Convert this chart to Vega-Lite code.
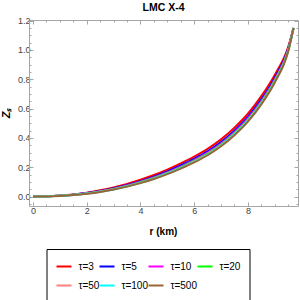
{
  "$schema": "https://vega.github.io/schema/vega-lite/v6.json",
  "width": 269,
  "height": 186,
  "autosize": {"type": "none"},
  "padding": {"left": 29, "top": 20, "right": 2, "bottom": 94},
  "background": "white",
  "title": {"text": "LMC X-4", "fontSize": 10.5, "fontWeight": "bold", "font": "Liberation Sans", "anchor": "middle", "baseline": "alphabetic", "offset": 3, "dy": 8, "color": "black"},
  "config": {"view": {"stroke": null}, "font": "Liberation Sans"},
  "datasets": {
    "curves": [
      {"r":0,"t":"τ=3","z":0},{"r":0.5,"t":"τ=3","z":0.002},{"r":1,"t":"τ=3","z":0.007},{"r":1.5,"t":"τ=3","z":0.015},{"r":2,"t":"τ=3","z":0.027},{"r":2.5,"t":"τ=3","z":0.043},{"r":3,"t":"τ=3","z":0.063},{"r":3.5,"t":"τ=3","z":0.087},{"r":4,"t":"τ=3","z":0.115},{"r":4.5,"t":"τ=3","z":0.147},{"r":5,"t":"τ=3","z":0.184},{"r":5.5,"t":"τ=3","z":0.226},{"r":6,"t":"τ=3","z":0.272},{"r":6.5,"t":"τ=3","z":0.325},{"r":7,"t":"τ=3","z":0.39},{"r":7.5,"t":"τ=3","z":0.47},{"r":8,"t":"τ=3","z":0.565},{"r":8.5,"t":"τ=3","z":0.685},{"r":9,"t":"τ=3","z":0.83},{"r":9.5,"t":"τ=3","z":1.02},{"r":9.7,"t":"τ=3","z":1.15},
      {"r":0,"t":"τ=5","z":0},{"r":0.5,"t":"τ=5","z":0.0018},{"r":1,"t":"τ=5","z":0.0062},{"r":1.5,"t":"τ=5","z":0.0134},{"r":2,"t":"τ=5","z":0.0242},{"r":2.5,"t":"τ=5","z":0.0386},{"r":3,"t":"τ=5","z":0.057},{"r":3.5,"t":"τ=5","z":0.0794},{"r":4,"t":"τ=5","z":0.1058},{"r":4.5,"t":"τ=5","z":0.1362},{"r":5,"t":"τ=5","z":0.1716},{"r":5.5,"t":"τ=5","z":0.212},{"r":6,"t":"τ=5","z":0.2564},{"r":6.5,"t":"τ=5","z":0.3078},{"r":7,"t":"τ=5","z":0.3712},{"r":7.5,"t":"τ=5","z":0.4496},{"r":8,"t":"τ=5","z":0.5434},{"r":8.5,"t":"τ=5","z":0.6626},{"r":9,"t":"τ=5","z":0.8092},{"r":9.5,"t":"τ=5","z":1.008},{"r":9.7,"t":"τ=5","z":1.15},
      {"r":0,"t":"τ=10","z":0},{"r":0.5,"t":"τ=10","z":0.0017},{"r":1,"t":"τ=10","z":0.0058},{"r":1.5,"t":"τ=10","z":0.0126},{"r":2,"t":"τ=10","z":0.0228},{"r":2.5,"t":"τ=10","z":0.0364},{"r":3,"t":"τ=10","z":0.054},{"r":3.5,"t":"τ=10","z":0.0756},{"r":4,"t":"τ=10","z":0.1012},{"r":4.5,"t":"τ=10","z":0.1308},{"r":5,"t":"τ=10","z":0.1654},{"r":5.5,"t":"τ=10","z":0.205},{"r":6,"t":"τ=10","z":0.2486},{"r":6.5,"t":"τ=10","z":0.2992},{"r":7,"t":"τ=10","z":0.3618},{"r":7.5,"t":"τ=10","z":0.4394},{"r":8,"t":"τ=10","z":0.5326},{"r":8.5,"t":"τ=10","z":0.6514},{"r":9,"t":"τ=10","z":0.7988},{"r":9.5,"t":"τ=10","z":1.002},{"r":9.7,"t":"τ=10","z":1.15},
      {"r":0,"t":"τ=20","z":0},{"r":0.5,"t":"τ=20","z":0.0016},{"r":1,"t":"τ=20","z":0.0055},{"r":1.5,"t":"τ=20","z":0.012},{"r":2,"t":"τ=20","z":0.0218},{"r":2.5,"t":"τ=20","z":0.0348},{"r":3,"t":"τ=20","z":0.0518},{"r":3.5,"t":"τ=20","z":0.0728},{"r":4,"t":"τ=20","z":0.0978},{"r":4.5,"t":"τ=20","z":0.1268},{"r":5,"t":"τ=20","z":0.1608},{"r":5.5,"t":"τ=20","z":0.1998},{"r":6,"t":"τ=20","z":0.2428},{"r":6.5,"t":"τ=20","z":0.2928},{"r":7,"t":"τ=20","z":0.3548},{"r":7.5,"t":"τ=20","z":0.4318},{"r":8,"t":"τ=20","z":0.5245},{"r":8.5,"t":"τ=20","z":0.643},{"r":9,"t":"τ=20","z":0.791},{"r":9.5,"t":"τ=20","z":0.9975},{"r":9.7,"t":"τ=20","z":1.15},
      {"r":0,"t":"τ=50","z":0},{"r":0.5,"t":"τ=50","z":0.0016},{"r":1,"t":"τ=50","z":0.0053},{"r":1.5,"t":"τ=50","z":0.0116},{"r":2,"t":"τ=50","z":0.021},{"r":2.5,"t":"τ=50","z":0.0337},{"r":3,"t":"τ=50","z":0.0503},{"r":3.5,"t":"τ=50","z":0.0709},{"r":4,"t":"τ=50","z":0.0955},{"r":4.5,"t":"τ=50","z":0.124},{"r":5,"t":"τ=50","z":0.1577},{"r":5.5,"t":"τ=50","z":0.1963},{"r":6,"t":"τ=50","z":0.2389},{"r":6.5,"t":"τ=50","z":0.2885},{"r":7,"t":"τ=50","z":0.35},{"r":7.5,"t":"τ=50","z":0.4267},{"r":8,"t":"τ=50","z":0.5191},{"r":8.5,"t":"τ=50","z":0.6374},{"r":9,"t":"τ=50","z":0.7858},{"r":9.5,"t":"τ=50","z":0.9945},{"r":9.7,"t":"τ=50","z":1.15},
      {"r":0,"t":"τ=100","z":0},{"r":0.5,"t":"τ=100","z":0.0015},{"r":1,"t":"τ=100","z":0.0052},{"r":1.5,"t":"τ=100","z":0.0113},{"r":2,"t":"τ=100","z":0.0206},{"r":2.5,"t":"τ=100","z":0.0329},{"r":3,"t":"τ=100","z":0.0492},{"r":3.5,"t":"τ=100","z":0.0695},{"r":4,"t":"τ=100","z":0.0938},{"r":4.5,"t":"τ=100","z":0.1222},{"r":5,"t":"τ=100","z":0.1555},{"r":5.5,"t":"τ=100","z":0.1938},{"r":6,"t":"τ=100","z":0.2361},{"r":6.5,"t":"τ=100","z":0.2854},{"r":7,"t":"τ=100","z":0.3468},{"r":7.5,"t":"τ=100","z":0.4231},{"r":8,"t":"τ=100","z":0.5153},{"r":8.5,"t":"τ=100","z":0.6335},{"r":9,"t":"τ=100","z":0.7822},{"r":9.5,"t":"τ=100","z":0.9924},{"r":9.7,"t":"τ=100","z":1.15},
      {"r":0,"t":"τ=500","z":0},{"r":0.5,"t":"τ=500","z":0.0015},{"r":1,"t":"τ=500","z":0.005},{"r":1.5,"t":"τ=500","z":0.011},{"r":2,"t":"τ=500","z":0.02},{"r":2.5,"t":"τ=500","z":0.032},{"r":3,"t":"τ=500","z":0.048},{"r":3.5,"t":"τ=500","z":0.068},{"r":4,"t":"τ=500","z":0.092},{"r":4.5,"t":"τ=500","z":0.12},{"r":5,"t":"τ=500","z":0.153},{"r":5.5,"t":"τ=500","z":0.191},{"r":6,"t":"τ=500","z":0.233},{"r":6.5,"t":"τ=500","z":0.282},{"r":7,"t":"τ=500","z":0.343},{"r":7.5,"t":"τ=500","z":0.419},{"r":8,"t":"τ=500","z":0.511},{"r":8.5,"t":"τ=500","z":0.629},{"r":9,"t":"τ=500","z":0.778},{"r":9.5,"t":"τ=500","z":0.99},{"r":9.7,"t":"τ=500","z":1.15}
    ]
  },
  "data": {"name": "curves"},
  "layer": [
    {
      "mark": {"type": "line", "strokeWidth": 2, "interpolate": "monotone"},
      "encoding": {
        "x": {
          "field": "r", "type": "quantitative",
          "scale": {"domain": [-0.149, 9.866], "nice": false, "zero": false},
          "axis": {
            "orient": "bottom",
            "values": [0,0.5,1,1.5,2,2.5,3,3.5,4,4.5,5,5.5,6,6.5,7,7.5,8,8.5,9,9.5],
            "tickSize": {"condition": {"test": "datum.value % 2 != 0", "value": -2}, "value": -4},
            "labelExpr": "datum.value % 2 == 0 ? format(datum.value, 'd') : ''",
            "labelFlush": false,
            "labelFontSize": 9, "labelColor": "#444444", "labelPadding": 4,
            "grid": false, "domainColor": "#a6a6a6", "tickColor": "#a6a6a6",
            "title": "r (km)", "titleFontSize": 10, "titleFontWeight": "bold", "titleColor": "black",
            "titleX": 134, "titleY": 28.5, "titleBaseline": "alphabetic", "titleAlign": "center"
          }
        },
        "y": {
          "field": "z", "type": "quantitative",
          "scale": {"domain": [-0.064, 1.204], "nice": false, "zero": false},
          "axis": {
            "orient": "left",
            "values": [-0.05,0,0.05,0.1,0.15,0.2,0.25,0.3,0.35,0.4,0.45,0.5,0.55,0.6,0.65,0.7,0.75,0.8,0.85,0.9,0.95,1,1.05,1.1,1.15,1.2],
            "tickSize": {"condition": {"test": "abs(datum.value*5 - round(datum.value*5)) > 0.001", "value": -2}, "value": -4},
            "labelExpr": "abs(datum.value*5 - round(datum.value*5)) < 0.001 ? format(datum.value, '.1f') : ''",
            "labelFontSize": 9, "labelColor": "#444444", "labelPadding": 3,
            "grid": false, "domainColor": "#a6a6a6", "tickColor": "#a6a6a6",
            "title": "Zₛ", "titleFontSize": 11, "titleFontWeight": "bold", "titleFontStyle": "italic", "titleColor": "black",
            "titleX": -23, "titleY": 93, "titleAngle": 270, "titleBaseline": "middle", "titleAlign": "center"
          }
        },
        "color": {
          "field": "t", "type": "nominal",
          "sort": ["τ=3","τ=5","τ=10","τ=20","τ=50","τ=100","τ=500"],
          "scale": {
            "domain": ["τ=3","τ=5","τ=10","τ=20","τ=50","τ=100","τ=500"],
            "range": ["#ff0000","#0000ff","#ff00ff","#00ff00","#ff8080","#00ffff","#996633"]
          },
          "legend": {
            "title": null, "orient": "none", "legendX": 17.5, "legendY": 229,
            "direction": "horizontal", "columns": 4, "gridAlign": "none",
            "strokeColor": "black", "fillColor": "white", "padding": 9,
            "rowPadding": 5, "columnPadding": -4,
            "symbolType": "stroke", "symbolSize": 225, "symbolStrokeWidth": 2,
            "labelFontSize": 10, "labelFont": "Liberation Sans", "labelColor": "black", "labelOffset": 6
          }
        }
      }
    },
    {
      "mark": {"type": "point", "opacity": 0},
      "encoding": {
        "x": {
          "field": "r", "type": "quantitative",
          "scale": {"domain": [-0.149, 9.866], "nice": false, "zero": false},
          "axis": {
            "orient": "top",
            "values": [0,0.5,1,1.5,2,2.5,3,3.5,4,4.5,5,5.5,6,6.5,7,7.5,8,8.5,9,9.5],
            "tickSize": {"condition": {"test": "datum.value % 2 != 0", "value": -2}, "value": -4},
            "labels": false, "title": null,
            "grid": false, "domainColor": "#a6a6a6", "tickColor": "#a6a6a6"
          }
        },
        "y": {
          "field": "z", "type": "quantitative",
          "scale": {"domain": [-0.064, 1.204], "nice": false, "zero": false},
          "axis": {
            "orient": "right",
            "values": [-0.05,0,0.05,0.1,0.15,0.2,0.25,0.3,0.35,0.4,0.45,0.5,0.55,0.6,0.65,0.7,0.75,0.8,0.85,0.9,0.95,1,1.05,1.1,1.15,1.2],
            "tickSize": {"condition": {"test": "abs(datum.value*5 - round(datum.value*5)) > 0.001", "value": -2}, "value": -4},
            "labels": false, "title": null,
            "grid": false, "domainColor": "#a6a6a6", "tickColor": "#a6a6a6"
          }
        }
      }
    }
  ],
  "resolve": {"axis": {"x": "independent", "y": "independent"}}
}
